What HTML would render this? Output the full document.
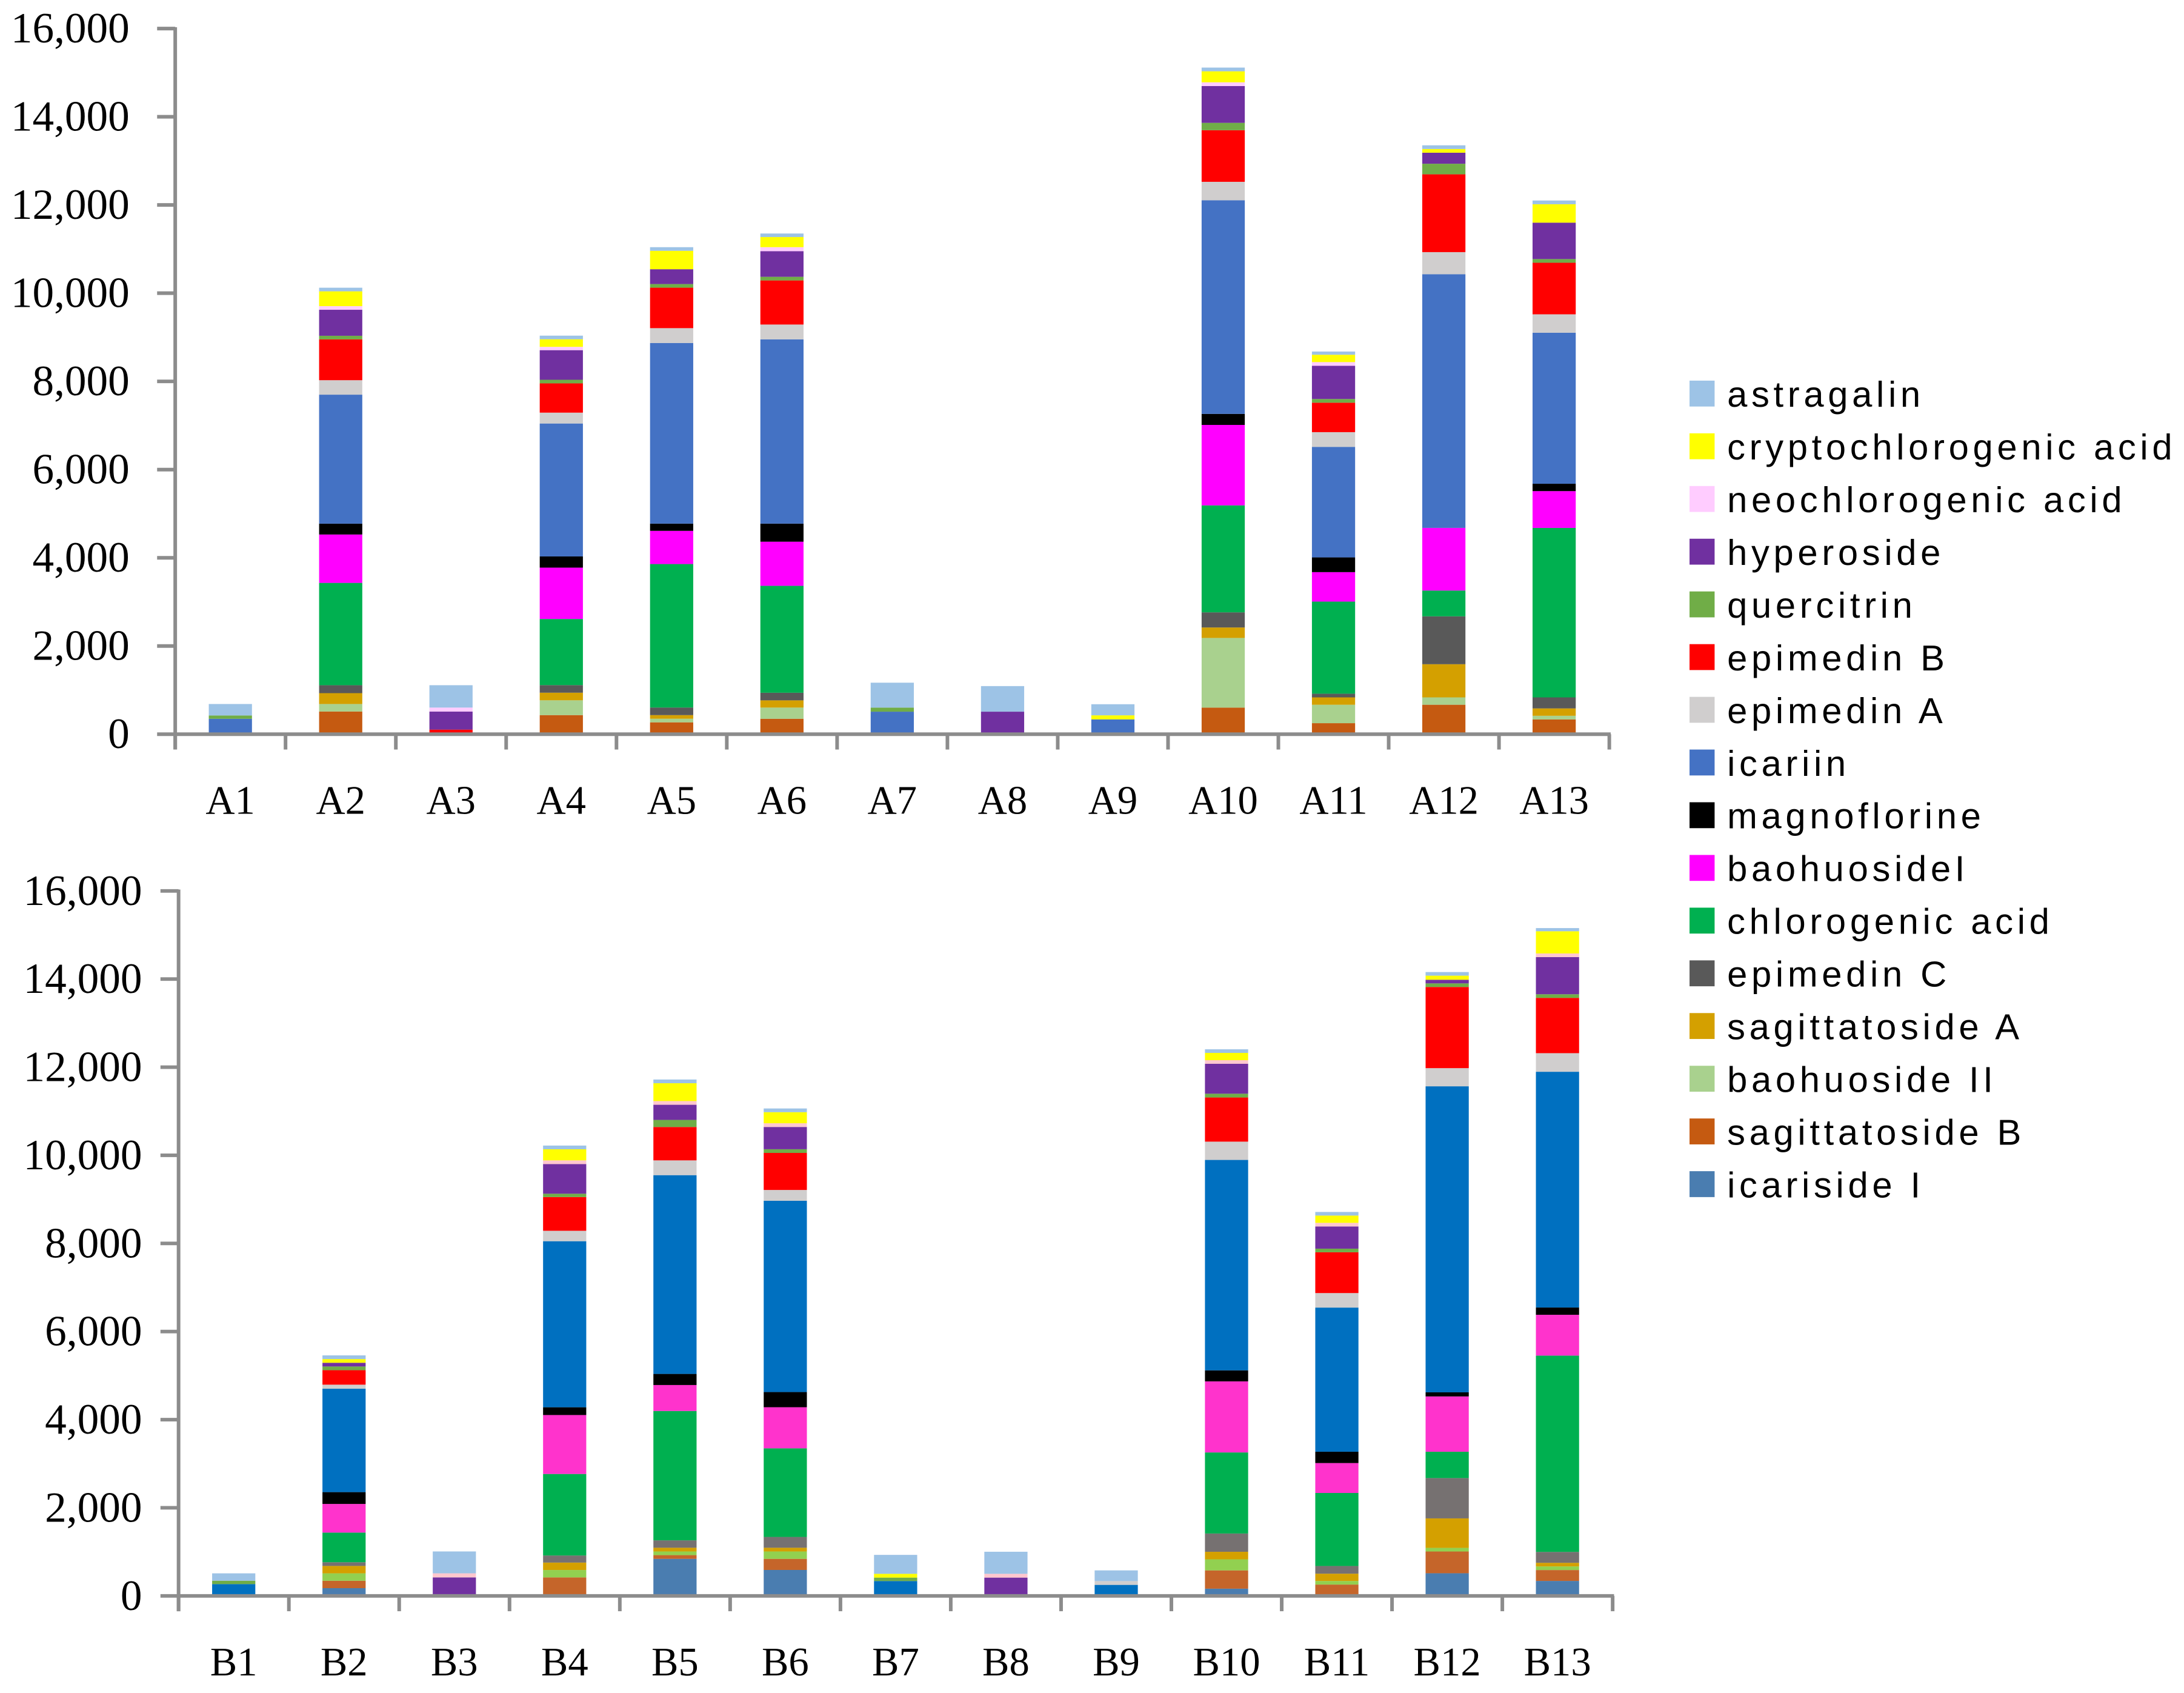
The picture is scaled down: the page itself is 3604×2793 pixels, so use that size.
<!DOCTYPE html>
<html><head><meta charset="utf-8">
<style>
html,body{margin:0;padding:0;background:#fff;}
svg{display:block;}
.ytl{font-family:"Liberation Serif",serif;font-size:31px;fill:#000;}
.xtl{font-family:"Liberation Serif",serif;font-size:29px;fill:#000;}
.leg{font-family:"Liberation Sans",sans-serif;font-size:26px;letter-spacing:2.9px;fill:#000;}
</style></head>
<body>
<svg id="chart" width="3604" height="2793" viewBox="0 0 1568 1215.2" preserveAspectRatio="none" xmlns="http://www.w3.org/2000/svg">
<rect x="0" y="0" width="1568" height="1215.2" fill="#fff"/>
<g id="panelA"></g>
<g id="panelB"></g>
<g id="legend"></g>
</svg>
<script>
// series order bottom -> top
const seriesNames = ["icariside I","sagittatoside B","baohuoside II","sagittatoside A","epimedin C","chlorogenic acid","baohuosideI","magnoflorine","icariin","epimedin A","epimedin B","quercitrin","hyperoside","neochlorogenic acid","cryptochlorogenic acid","astragalin"];
const colorsA = ["#4A7DB0","#C55A11","#A9D18E","#D4A000","#595959","#00B050","#FF00FF","#000000","#4472C4","#D0CECE","#FF0000","#70AD47","#7030A0","#FFCCFF","#FFFF00","#9DC3E6"];
const colorsB = ["#4A7DB0","#C5652A","#92D050","#D4A000","#767171","#00B050","#FF33CC","#000000","#0070C0","#D0CECE","#FF0000","#70AD47","#7030A0","#FFC7CE","#FFFF00","#9DC3E6"];
const categoriesA = ["A1","A2","A3","A4","A5","A6","A7","A8","A9","A10","A11","A12","A13"];
const categoriesB = ["B1","B2","B3","B4","B5","B6","B7","B8","B9","B10","B11","B12","B13"];
const yTicks = [0,2000,4000,6000,8000,10000,12000,14000,16000];
const yTickLabels = ["0","2,000","4,000","6,000","8,000","10,000","12,000","14,000","16,000"];

const icarisideA = [0,0,0,0,0,0,0,0,0,0,0,0,0];
const sagBA = [0,515,0,433,269,350,0,0,0,603,250,668,334];
const baoIIA = [0,170,0,336,82,254,0,0,0,1580,418,167,84];
const sagAA = [0,246,0,172,82,164,0,0,0,237,167,752,167];
const epiCA = [0,180,0,172,172,172,0,0,0,343,84,1086,250];
const chloroA = [0,2320,0,1500,3253,2425,0,0,0,2426,2088,585,3842];
const baoIA = [0,1097,0,1164,753,1000,0,0,0,1824,668,1420,835];
const magnoA = [0,246,0,254,164,410,0,0,0,250,334,0,167];
const icariinA = [350,2925,0,3014,4096,4178,511,0,336,4844,2506,5752,3424];
const epiAA = [0,328,0,246,336,336,0,0,0,418,334,501,418];
const epiBA = [0,925,104,664,918,1000,0,0,0,1170,668,1764,1169];
const quercA = [75,82,0,82,82,82,92,0,0,167,84,240,84];
const hyperA = [0,590,410,671,336,582,0,511,0,835,752,250,825];
const neoA = [0,82,90,75,0,90,0,0,0,84,84,0,0];
const cryptoA = [0,336,0,172,418,230,0,0,92,250,167,84,418];
const astrA = [260,82,507,82,82,80,565,580,252,84,73,84,84];

const icarisideB = [0,176,0,0,841,589,0,0,0,164,0,514,340];
const sagBB = [0,168,0,420,84,252,0,0,0,415,257,494,247];
const baoIIB = [0,168,0,168,84,168,0,0,0,250,82,82,82];
const sagAB = [0,168,0,168,84,84,0,0,0,172,165,669,82];
const epiCB = [0,84,0,161,168,245,0,0,0,415,175,916,247];
const chloroB = [0,673,0,1850,2936,2011,0,0,0,1840,1657,597,4456];
const baoIB = [0,650,0,1338,589,933,0,0,0,1613,679,1255,926];
const magnoB = [0,268,0,176,252,344,0,0,0,250,257,93,165];
const icariinB = [268,2347,0,3769,4511,4342,337,0,250,4776,3272,6946,5351];
const epiAB = [0,92,0,237,336,245,0,0,86,415,329,412,422];
const epiBB = [0,329,0,765,757,841,0,0,0,1002,926,1842,1255];
const quercB = [76,84,0,76,161,84,78,0,0,86,82,82,82];
const hyperB = [0,84,420,673,344,505,0,415,0,679,504,82,844];
const neoB = [0,0,92,84,84,84,0,86,0,82,82,0,82];
const cryptoB = [0,84,0,252,405,252,86,0,0,165,165,93,504];
const astrB = [168,84,497,84,84,84,430,501,243,82,82,82,72];

const seriesA = [icarisideA,sagBA,baoIIA,sagAA,epiCA,chloroA,baoIA,magnoA,icariinA,epiAA,epiBA,quercA,hyperA,neoA,cryptoA,astrA];
const seriesB = [icarisideB,sagBB,baoIIB,sagAB,epiCB,chloroB,baoIB,magnoB,icariinB,epiAB,epiBB,quercB,hyperB,neoB,cryptoB,astrB];

const NS = "http://www.w3.org/2000/svg";
function mk(tag, attrs, parent){
  const e = document.createElementNS(NS, tag);
  for (const k in attrs) e.setAttribute(k, attrs[k]);
  parent.appendChild(e);
  return e;
}

function drawPanel(g, cats, series, colors, cfg){
  const yScale = v => cfg.y0 - (v/16000)*(cfg.y0 - cfg.y16);
  const step = (cfg.xEnd - cfg.x0)/cats.length;
  const xCenter = i => cfg.x0 + step*(i+0.5);
  const bw = 31;
  // bars
  cats.forEach((c, i) => {
    const bar = mk("g", {}, g);
    
    
    let cum = 0;
    series.forEach((arr, s) => {
      const v = arr[i];
      if (!v) return;
      const yTop = yScale(cum + v), yBot = yScale(cum);
      const r = mk("rect", {x: xCenter(i)-bw/2, y: yTop, width: bw, height: yBot - yTop, fill: colors[s]}, bar);
      
      
      cum += v;
    });
  });
  // y axis
  const ax = mk("line", {x1: cfg.x0, y1: cfg.y16 - 1, x2: cfg.x0, y2: cfg.y0 + 11, stroke: "#8c8c8c", "stroke-width": 2.6}, g);
  
  
  yTicks.forEach((t, k) => {
    const y = yScale(t);
    const tk = mk("line", {x1: cfg.x0 - 13, y1: y, x2: cfg.x0, y2: y, stroke: "#8c8c8c", "stroke-width": 2.6}, g);
    
    
    const tl = mk("text", {x: cfg.labelRight, y: y + 10, "text-anchor": "end", class: "ytl"}, g);
    tl.textContent = yTickLabels[k];
    
    
  });
  // x axis
  const xa = mk("line", {x1: cfg.x0, y1: cfg.y0, x2: cfg.xEnd + 1, y2: cfg.y0, stroke: "#8c8c8c", "stroke-width": 2.6}, g);
  
  
  for (let i = 0; i <= cats.length; i++){
    const x = cfg.x0 + step*i;
    const tk = mk("line", {x1: x, y1: cfg.y0, x2: x, y2: cfg.y0 + 11, stroke: "#8c8c8c", "stroke-width": 2.6}, g);
    
    
  }
  cats.forEach((c, i) => {
    const t = mk("text", {x: xCenter(i), y: cfg.y0 + 57, "text-anchor": "middle", class: "xtl"}, g);
    t.textContent = c;
    
    
  });
}

drawPanel(document.getElementById("panelA"), categoriesA, seriesA, colorsA, {x0: 125.8, xEnd: 1155.4, y0: 527, y16: 20.5, labelRight: 93});
drawPanel(document.getElementById("panelB"), categoriesB, seriesB, colorsB, {x0: 128.2, xEnd: 1157.8, y0: 1145.5, y16: 639.5, labelRight: 102});

// legend (top to bottom = reverse stacking order)
const lg = document.getElementById("legend");
for (let k = 0; k < seriesNames.length; k++){
  const s = seriesNames.length - 1 - k;
  const cy = 282.5 + k*37.83;
  const item = mk("g", {}, lg);
  
  
  const sw = mk("rect", {x: 1213, y: cy - 9.3, width: 18, height: 18.6, fill: colorsA[s]}, item);
  
  
  const t = mk("text", {x: 1240, y: cy + 9.5, class: "leg"}, item);
  t.textContent = seriesNames[s];
  
  
}
</script>
</body></html>
